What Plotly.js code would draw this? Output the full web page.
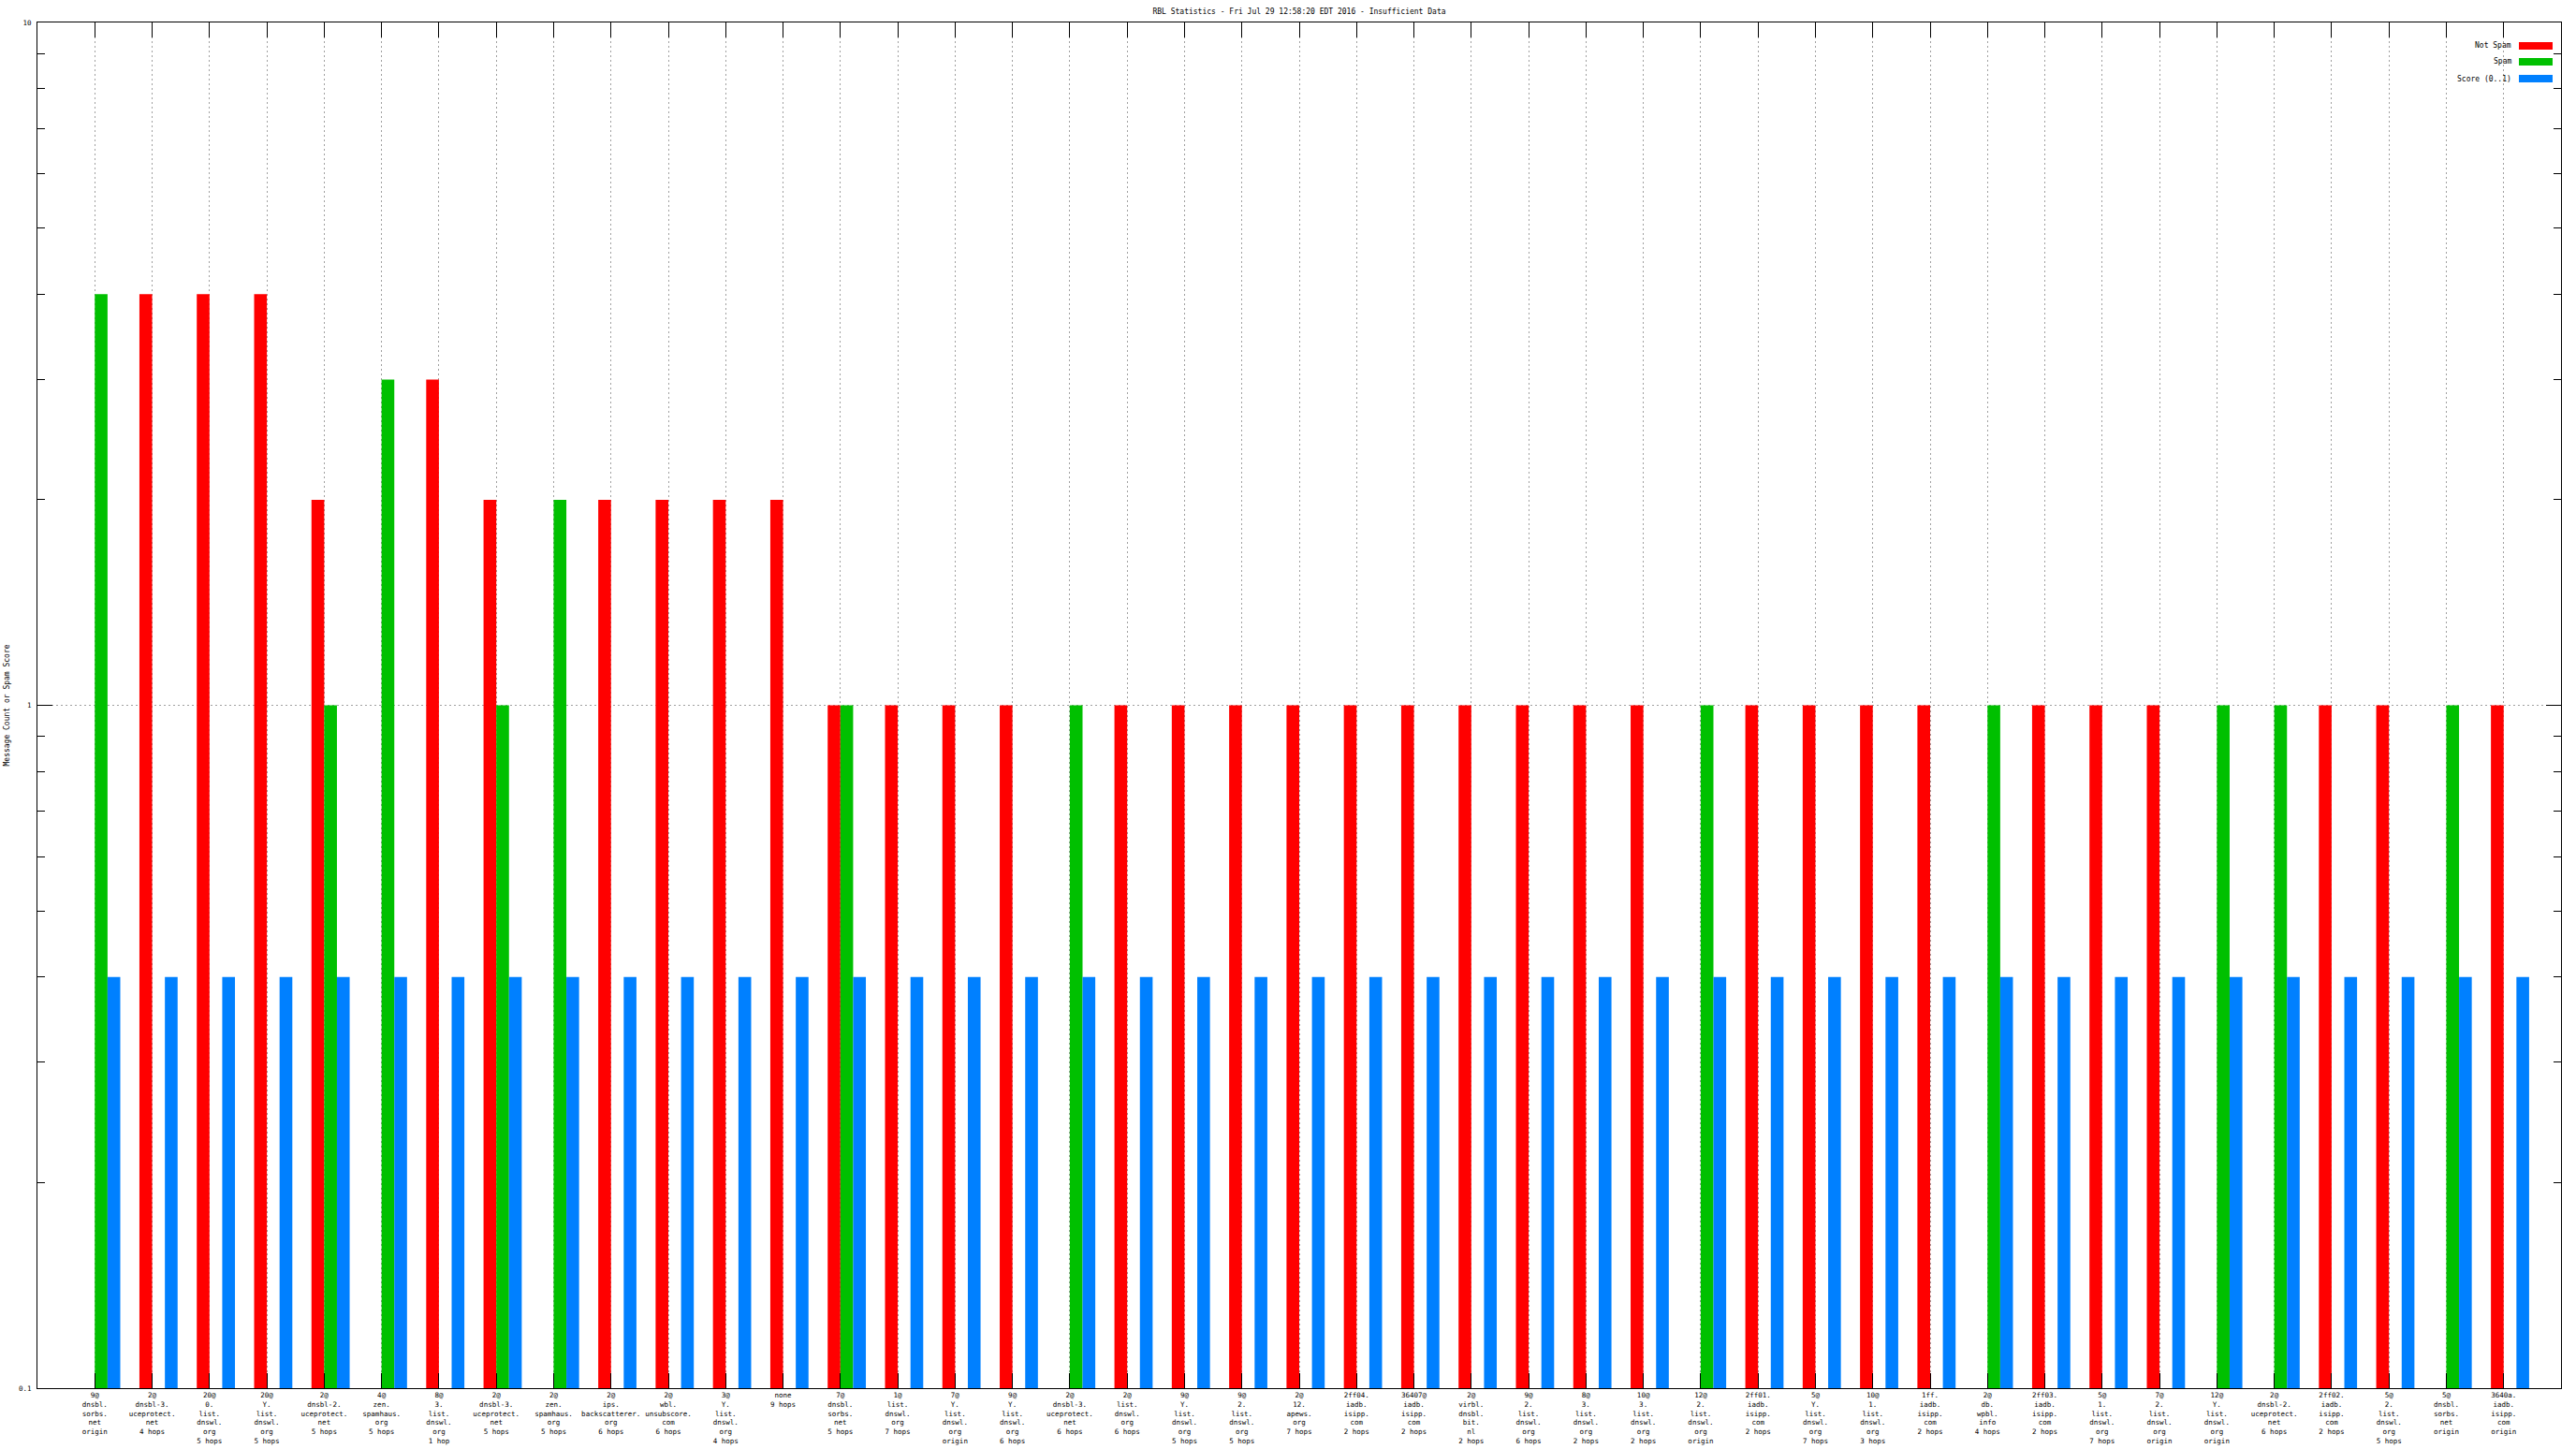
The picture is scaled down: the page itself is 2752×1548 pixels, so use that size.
<!DOCTYPE html>
<html>
<head>
<meta charset="utf-8">
<script src="https://cdn.plot.ly/plotly-3.0.1.min.js"></script>
<style>
  html, body { margin: 0; padding: 0; background: #ffffff; }
  #chart { width: 2752px; height: 1548px; }
</style>
</head>
<body>
<div id="chart"></div>
<script>
// ---- data ----
const categories = [
  "9@<br>dnsbl.<br>sorbs.<br>net<br>origin",
  "2@<br>dnsbl-3.<br>uceprotect.<br>net<br>4 hops",
  "20@<br>0.<br>list.<br>dnswl.<br>org<br>5 hops",
  "20@<br>Y.<br>list.<br>dnswl.<br>org<br>5 hops",
  "2@<br>dnsbl-2.<br>uceprotect.<br>net<br>5 hops",
  "4@<br>zen.<br>spamhaus.<br>org<br>5 hops",
  "8@<br>3.<br>list.<br>dnswl.<br>org<br>1 hop",
  "2@<br>dnsbl-3.<br>uceprotect.<br>net<br>5 hops",
  "2@<br>zen.<br>spamhaus.<br>org<br>5 hops",
  "2@<br>ips.<br>backscatterer.<br>org<br>6 hops",
  "2@<br>wbl.<br>unsubscore.<br>com<br>6 hops",
  "3@<br>Y.<br>list.<br>dnswl.<br>org<br>4 hops",
  "none<br>9 hops",
  "7@<br>dnsbl.<br>sorbs.<br>net<br>5 hops",
  "1@<br>list.<br>dnswl.<br>org<br>7 hops",
  "7@<br>Y.<br>list.<br>dnswl.<br>org<br>origin",
  "9@<br>Y.<br>list.<br>dnswl.<br>org<br>6 hops",
  "2@<br>dnsbl-3.<br>uceprotect.<br>net<br>6 hops",
  "2@<br>list.<br>dnswl.<br>org<br>6 hops",
  "9@<br>Y.<br>list.<br>dnswl.<br>org<br>5 hops",
  "9@<br>2.<br>list.<br>dnswl.<br>org<br>5 hops",
  "2@<br>12.<br>apews.<br>org<br>7 hops",
  "2ff04.<br>iadb.<br>isipp.<br>com<br>2 hops",
  "36407@<br>iadb.<br>isipp.<br>com<br>2 hops",
  "2@<br>virbl.<br>dnsbl.<br>bit.<br>nl<br>2 hops",
  "9@<br>2.<br>list.<br>dnswl.<br>org<br>6 hops",
  "8@<br>3.<br>list.<br>dnswl.<br>org<br>2 hops",
  "10@<br>3.<br>list.<br>dnswl.<br>org<br>2 hops",
  "12@<br>2.<br>list.<br>dnswl.<br>org<br>origin",
  "2ff01.<br>iadb.<br>isipp.<br>com<br>2 hops",
  "5@<br>Y.<br>list.<br>dnswl.<br>org<br>7 hops",
  "10@<br>1.<br>list.<br>dnswl.<br>org<br>3 hops",
  "1ff.<br>iadb.<br>isipp.<br>com<br>2 hops",
  "2@<br>db.<br>wpbl.<br>info<br>4 hops",
  "2ff03.<br>iadb.<br>isipp.<br>com<br>2 hops",
  "5@<br>1.<br>list.<br>dnswl.<br>org<br>7 hops",
  "7@<br>2.<br>list.<br>dnswl.<br>org<br>origin",
  "12@<br>Y.<br>list.<br>dnswl.<br>org<br>origin",
  "2@<br>dnsbl-2.<br>uceprotect.<br>net<br>6 hops",
  "2ff02.<br>iadb.<br>isipp.<br>com<br>2 hops",
  "5@<br>2.<br>list.<br>dnswl.<br>org<br>5 hops",
  "5@<br>dnsbl.<br>sorbs.<br>net<br>origin",
  "3640a.<br>iadb.<br>isipp.<br>com<br>origin"
];

const notSpam = [null,4,4,4,2,null,3,2,null,2,2,2,2,1,1,1,1,null,1,1,1,1,1,1,1,1,1,1,null,1,1,1,1,null,1,1,1,null,null,1,1,null,1];
const spam    = [4,null,null,null,1,3,null,1,2,null,null,null,null,1,null,null,null,1,null,null,null,null,null,null,null,null,null,null,1,null,null,null,null,1,null,null,null,1,1,null,null,1,null];
const score   = [0.4,0.4,0.4,0.4,0.4,0.4,0.4,0.4,0.4,0.4,0.4,0.4,0.4,0.4,0.4,0.4,0.4,0.4,0.4,0.4,0.4,0.4,0.4,0.4,0.4,0.4,0.4,0.4,0.4,0.4,0.4,0.4,0.4,0.4,0.4,0.4,0.4,0.4,0.4,0.4,0.4,0.4,0.4];

const seriesNames = ["Not Spam", "Spam", "Score (0..1)"];
const seriesColors = ["#ff0000", "#00c000", "#0080ff"];
const yTickVals = [0.1, 1, 10];
const yTickText = ["0.1", "1", "10"];
const chartTitle = "RBL Statistics - Fri Jul 29 12:58:20 EDT 2016 - Insufficient Data";
const yTitle = "Message Count or Spam Score";

// ---- layout helpers ----
const W = 2752, H = 1548;
const M = {l: 40, r: 16, t: 24, b: 65};
const plotW = W - M.l - M.r, plotH = H - M.t - M.b;
const FONT = "DejaVu Sans Mono, Liberation Mono, monospace";
const xIdx = categories.map((_, i) => i);
const barW = 0.222;
const offsets = [-barW, 0, barW];
const seriesData = [notSpam, spam, score];

const traces = seriesData.map((vals, k) => ({
  type: "bar",
  name: seriesNames[k],
  x: xIdx,
  y: vals,
  width: barW,
  offset: offsets[k],
  marker: {color: seriesColors[k], line: {width: 0}},
  showlegend: false,
  hoverinfo: "x+y"
}));

// custom legend: text right-aligned, swatch to the right (gnuplot style)
const legendRowsPx = [49, 66, 84];
const swatchLeftPx = 2691, swatchRightPx = 2727, swatchHalfH = 4, textRightPx = 2685;
const px2x = p => (p - M.l) / plotW;
const py2y = p => 1 - (p - M.t) / plotH;
const shapes = [], annotations = [];
seriesNames.forEach((n, k) => {
  shapes.push({
    type: "rect", xref: "paper", yref: "paper",
    x0: px2x(swatchLeftPx), x1: px2x(swatchRightPx),
    y0: py2y(legendRowsPx[k] + swatchHalfH), y1: py2y(legendRowsPx[k] - swatchHalfH),
    fillcolor: seriesColors[k], line: {width: 0}
  });
  annotations.push({
    xref: "paper", yref: "paper", x: px2x(textRightPx), y: py2y(legendRowsPx[k]),
    xanchor: "right", yanchor: "middle", showarrow: false, text: n,
    font: {family: FONT, size: 8, color: "#000"}
  });
});
// y-axis title as rotated annotation near the left edge
annotations.push({
  xref: "paper", yref: "paper", x: px2x(7), y: 0.5,
  xanchor: "center", yanchor: "middle", showarrow: false, textangle: -90,
  text: yTitle, font: {family: FONT, size: 8, color: "#000"}
});

const layout = {
  width: W, height: H,
  margin: M,
  paper_bgcolor: "#ffffff", plot_bgcolor: "#ffffff",
  font: {family: FONT, size: 7.5, color: "#000"},
  title: {
    text: chartTitle, xref: "paper", x: 0.5, xanchor: "center",
    yref: "container", y: 1 - 12 / H, yanchor: "middle",
    font: {family: FONT, size: 8, color: "#000"}
  },
  barmode: "group",
  showlegend: false,
  xaxis: {
    type: "linear",
    range: [-1, categories.length],
    tickmode: "array", tickvals: xIdx, ticktext: categories,
    ticks: "inside", ticklen: 16, tickwidth: 1, tickcolor: "#000",
    showline: true, linecolor: "#000", linewidth: 1, mirror: "ticks",
    showgrid: true, gridcolor: "#a0a0a0", gridwidth: 1, griddash: "2px,3px",
    zeroline: false,
    tickangle: 0,
    tickfont: {family: FONT, size: 7.5, color: "#000"},
    ticklabelstandoff: 0,
    automargin: false
  },
  yaxis: {
    type: "log",
    range: [-1, 1],
    tickmode: "array", tickvals: yTickVals, ticktext: yTickText,
    ticks: "inside", ticklen: 16, tickwidth: 1, tickcolor: "#000",
    minor: {ticks: "inside", ticklen: 8, tickwidth: 1, tickcolor: "#000", dtick: "D1", showgrid: false},
    showline: true, linecolor: "#000", linewidth: 1, mirror: "ticks",
    showgrid: true, gridcolor: "#a0a0a0", gridwidth: 1, griddash: "2px,3px",
    zeroline: false,
    tickfont: {family: FONT, size: 7.5, color: "#000"},
    ticklabelstandoff: 4,
    automargin: false
  },
  shapes: shapes,
  annotations: annotations
};

Plotly.newPlot("chart", traces, layout, {displayModeBar: false, staticPlot: true});
</script>
</body>
</html>
